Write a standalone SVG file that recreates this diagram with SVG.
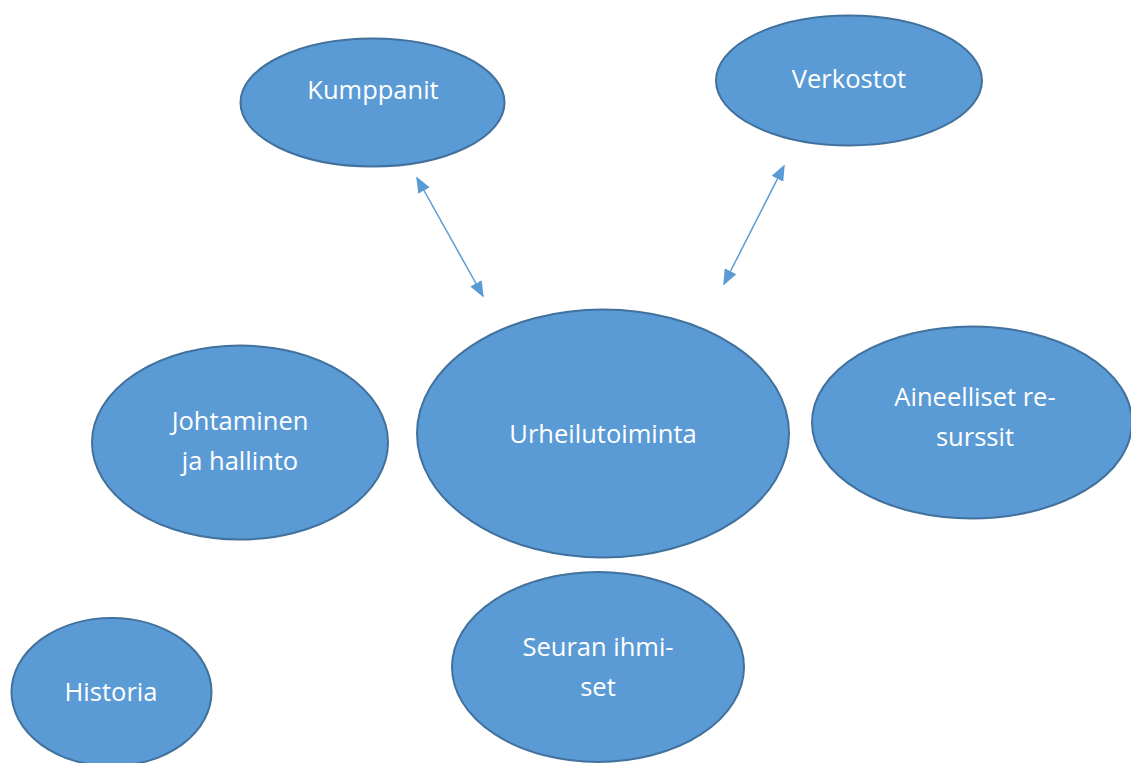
<svg xmlns="http://www.w3.org/2000/svg" width="1131" height="763" viewBox="0 0 1131 763">
<style>
.n{fill:#5B9BD5;stroke:#41719C;stroke-width:2}
.t{fill:#fff;font-family:"Open Sans","Liberation Sans",sans-serif;font-size:25.5px;text-anchor:middle}
.c{stroke:#5B9BD5;stroke-width:1.5;fill:none}
</style>
<defs>
<marker id="ah" viewBox="0 0 10 10" refX="9" refY="5" markerWidth="16" markerHeight="13" orient="auto-start-reverse" markerUnits="userSpaceOnUse" preserveAspectRatio="none">
<path d="M0,0 L10,5 L0,10 z" fill="#5B9BD5"/>
</marker>
</defs>
<rect width="1131" height="763" fill="#fff"/>
<g id="connectors">
<line class="c" x1="417" y1="178" x2="483" y2="296" marker-start="url(#ah)" marker-end="url(#ah)"/>
<line class="c" x1="784" y1="166" x2="724" y2="284" marker-start="url(#ah)" marker-end="url(#ah)"/>
</g>
<g id="kumppanit"><ellipse class="n" cx="372.5" cy="102.5" rx="132" ry="64"/><text class="t" x="373" y="99">Kumppanit</text></g>
<g id="verkostot"><ellipse class="n" cx="849" cy="80.5" rx="133" ry="65"/><text class="t" x="849" y="88">Verkostot</text></g>
<g id="johtaminen"><ellipse class="n" cx="240" cy="442.5" rx="148" ry="97"/><text class="t" x="240" y="430">Johtaminen</text><text class="t" x="240" y="470">ja hallinto</text></g>
<g id="urheilutoiminta"><ellipse class="n" cx="603" cy="433.5" rx="186" ry="124"/><text class="t" x="603" y="443">Urheilutoiminta</text></g>
<g id="aineelliset"><ellipse class="n" cx="972" cy="422.5" rx="160" ry="96"/><text class="t" x="975" y="406">Aineelliset re-</text><text class="t" x="975" y="446">surssit</text></g>
<g id="seuran"><ellipse class="n" cx="598" cy="667" rx="146" ry="95"/><text class="t" x="598" y="656">Seuran ihmi-</text><text class="t" x="598" y="696">set</text></g>
<g id="historia"><ellipse class="n" cx="111.5" cy="692" rx="100" ry="74"/><text class="t" x="111" y="701">Historia</text></g>
</svg>
